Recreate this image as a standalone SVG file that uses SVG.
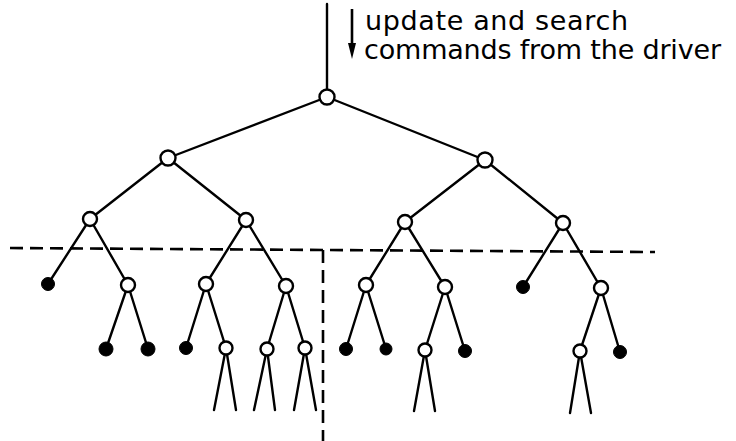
<svg xmlns="http://www.w3.org/2000/svg" width="736" height="441" viewBox="0 0 736 441">
<style>
.e{stroke:#000;stroke-width:2.4;fill:none;stroke-linecap:round}
.d{stroke:#000;stroke-width:2.6;fill:none;stroke-dasharray:13 7}
.w{fill:#fff;stroke:#000;stroke-width:2.4}
.b{fill:#000;stroke:#000;stroke-width:1}
.t{font-family:"DejaVu Sans","Liberation Sans",sans-serif;font-size:27px;fill:#000}
</style>
<rect width="736" height="441" fill="#fff"/>
<g id="partitions">
<polyline class="d" points="10,248 323,250 655,252"/>
<line class="d" x1="323" y1="250" x2="323" y2="441"/>
</g>
<g id="connectors">
<line class="e" x1="327" y1="4" x2="327" y2="90"/>
<line x1="352" y1="9" x2="352" y2="46" stroke="#000" stroke-width="2.6"/>
<polygon points="348,43 356,43 352,59" fill="#000"/>
<line class="e" x1="327" y1="97" x2="168" y2="158"/>
<line class="e" x1="327" y1="97" x2="485" y2="160"/>
<line class="e" x1="168" y1="158" x2="90" y2="219"/>
<line class="e" x1="168" y1="158" x2="246" y2="220"/>
<line class="e" x1="485" y1="160" x2="405" y2="222"/>
<line class="e" x1="485" y1="160" x2="563" y2="223"/>
<line class="e" x1="90" y1="219" x2="48" y2="284"/>
<line class="e" x1="90" y1="219" x2="128" y2="285"/>
<line class="e" x1="246" y1="220" x2="206" y2="284"/>
<line class="e" x1="246" y1="220" x2="286" y2="286"/>
<line class="e" x1="405" y1="222" x2="366" y2="285"/>
<line class="e" x1="405" y1="222" x2="445" y2="287"/>
<line class="e" x1="563" y1="223" x2="523" y2="287"/>
<line class="e" x1="563" y1="223" x2="601" y2="288"/>
<line class="e" x1="128" y1="285" x2="106" y2="349"/>
<line class="e" x1="128" y1="285" x2="148" y2="349"/>
<line class="e" x1="206" y1="284" x2="186" y2="348"/>
<line class="e" x1="206" y1="284" x2="226" y2="348"/>
<line class="e" x1="286" y1="286" x2="267" y2="349"/>
<line class="e" x1="286" y1="286" x2="305" y2="348"/>
<line class="e" x1="366" y1="285" x2="346" y2="349"/>
<line class="e" x1="366" y1="285" x2="386" y2="349"/>
<line class="e" x1="445" y1="287" x2="425" y2="350"/>
<line class="e" x1="445" y1="287" x2="465" y2="351"/>
<line class="e" x1="601" y1="288" x2="580" y2="351"/>
<line class="e" x1="601" y1="288" x2="620" y2="352"/>
<line class="e" x1="226" y1="348" x2="214" y2="410"/>
<line class="e" x1="226" y1="348" x2="236" y2="410"/>
<line class="e" x1="267" y1="349" x2="254" y2="410"/>
<line class="e" x1="267" y1="349" x2="275" y2="410"/>
<line class="e" x1="305" y1="348" x2="294" y2="410"/>
<line class="e" x1="305" y1="348" x2="316" y2="410"/>
<line class="e" x1="425" y1="350" x2="414" y2="411"/>
<line class="e" x1="425" y1="350" x2="435" y2="411"/>
<line class="e" x1="580" y1="351" x2="570" y2="413"/>
<line class="e" x1="580" y1="351" x2="591" y2="413"/>
</g>
<g id="n0"><circle class="w" cx="327" cy="97" r="7.5"/></g>
<g id="n1"><circle class="w" cx="168" cy="158" r="7.5"/></g>
<g id="n2"><circle class="w" cx="485" cy="160" r="7.5"/></g>
<g id="n3"><circle class="w" cx="90" cy="219" r="7"/></g>
<g id="n4"><circle class="w" cx="246" cy="220" r="7"/></g>
<g id="n5"><circle class="w" cx="405" cy="222" r="7"/></g>
<g id="n6"><circle class="w" cx="563" cy="223" r="7"/></g>
<g id="n7"><circle class="b" cx="48" cy="284" r="6.5"/></g>
<g id="n8"><circle class="w" cx="128" cy="285" r="7"/></g>
<g id="n9"><circle class="w" cx="206" cy="284" r="7"/></g>
<g id="n10"><circle class="w" cx="286" cy="286" r="7"/></g>
<g id="n11"><circle class="w" cx="366" cy="285" r="7"/></g>
<g id="n12"><circle class="w" cx="445" cy="287" r="7"/></g>
<g id="n13"><circle class="b" cx="523" cy="287" r="6.5"/></g>
<g id="n14"><circle class="w" cx="601" cy="288" r="7"/></g>
<g id="n15"><circle class="b" cx="106" cy="349" r="7"/></g>
<g id="n16"><circle class="b" cx="148" cy="349" r="7"/></g>
<g id="n17"><circle class="b" cx="186" cy="348" r="6.5"/></g>
<g id="n18"><circle class="w" cx="226" cy="348" r="6.5"/></g>
<g id="n19"><circle class="w" cx="267" cy="349" r="6.5"/></g>
<g id="n20"><circle class="w" cx="305" cy="348" r="6.5"/></g>
<g id="n21"><circle class="b" cx="346" cy="349" r="6.5"/></g>
<g id="n22"><circle class="b" cx="386" cy="349" r="6"/></g>
<g id="n23"><circle class="w" cx="425" cy="350" r="6.5"/></g>
<g id="n24"><circle class="b" cx="465" cy="351" r="6.5"/></g>
<g id="n25"><circle class="w" cx="580" cy="351" r="6.5"/></g>
<g id="n26"><circle class="b" cx="620" cy="352" r="6.5"/></g>
<g id="label">
<text class="t" x="365" y="30" textLength="263" lengthAdjust="spacing">update and search</text>
<text class="t" x="364" y="59" textLength="357" lengthAdjust="spacing">commands from the driver</text>
</g>
</svg>
